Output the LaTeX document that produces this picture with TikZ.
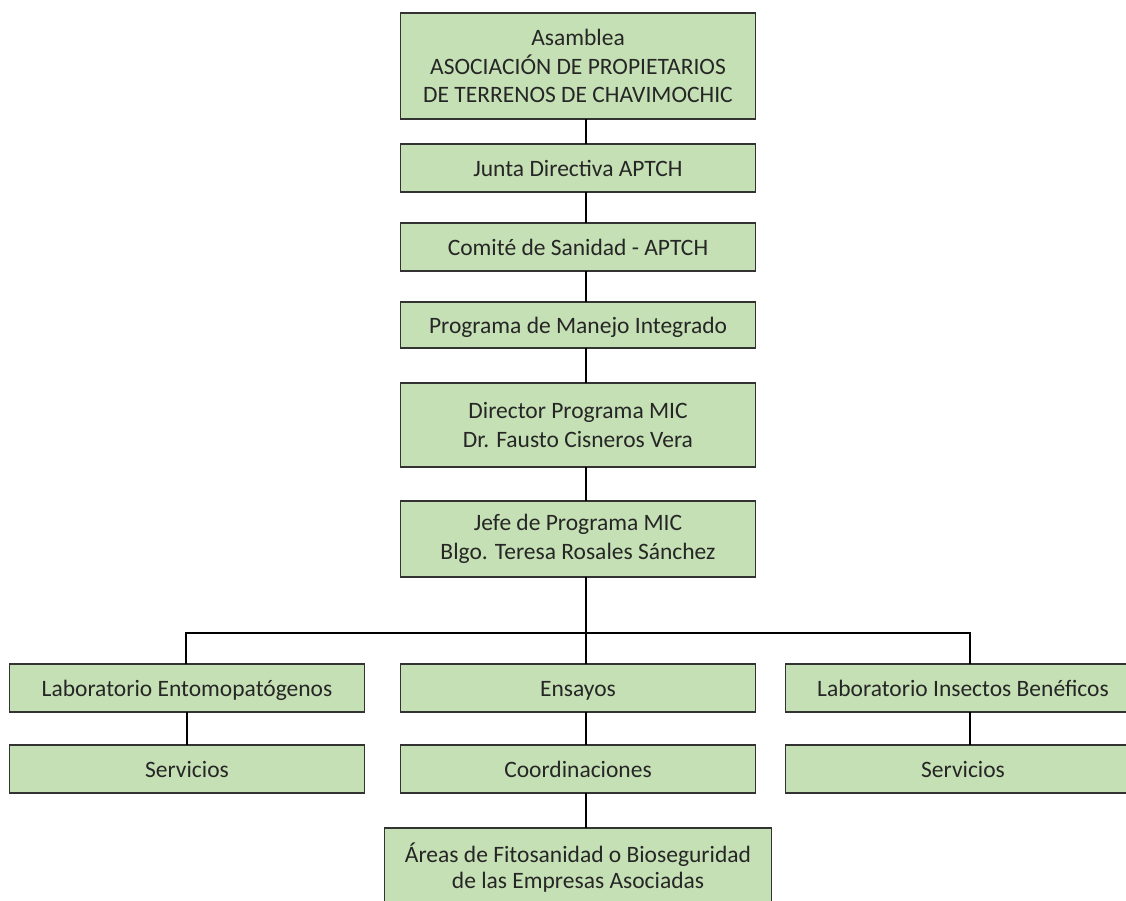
\documentclass[tikz,border=0pt]{standalone}
\usepackage{fontspec}
\setmainfont{Carlito}
\usepackage{tikz}
\usetikzlibrary{positioning}
\definecolor{boxgreen}{HTML}{C5E0B4}
\tikzset{
  unit/.style={rectangle, draw=black!80, line width=1.6pt, fill=boxgreen, align=center,
               minimum width=355pt, minimum height=48pt, inner sep=2pt, outer sep=0pt,
               text=black!85, font=\fontsize{23.5}{28.5}\selectfont},
  solo/.style={unit, text height=17pt, text depth=0pt},
  link/.style={line width=2.4pt, black},
}

\begin{document}
\begin{tikzpicture}[x=1pt, y=1pt]
  \useasboundingbox (0,0) rectangle (1126,-901);
  % cadena principal
  \node[unit, minimum height=106pt] (asam) at (578,-66) {Asamblea\\ASOCIACIÓN DE PROPIETARIOS\\DE TERRENOS DE CHAVIMOCHIC};
  \node[solo, below=25pt of asam] (junta) {Junta Directiva APTCH};
  \node[solo, below=31pt of junta] (comite) {Comité de Sanidad - APTCH};
  \node[solo, minimum height=46pt, below=31pt of comite] (prog) {Programa de Manejo Integrado};
  \node[unit, minimum height=84pt, below=35pt of prog] (dir) {Director Programa MIC\\Dr. Fausto Cisneros Vera};
  \node[unit, minimum height=76pt, below=34pt of dir] (jefe) {Jefe de Programa MIC\\Blgo. Teresa Rosales Sánchez};
  % areas del programa
  \node[solo, below=87pt of jefe] (ensa) {Ensayos};
  \node[solo, left=36pt of ensa] (ento) {Laboratorio Entomopatógenos};
  \node[solo, right=30pt of ensa] (insec) {Laboratorio Insectos Benéficos};
  \node[solo, below=33pt of ento] (serv1) {Servicios};
  \node[solo, below=33pt of ensa] (coord) {Coordinaciones};
  \node[solo, below=33pt of insec] (serv2) {Servicios};
  \node[unit, minimum width=387pt, minimum height=80pt, font=\fontsize{23.5}{26}\selectfont,
        below=35pt of coord] (areas) {Áreas de Fitosanidad o Bioseguridad\\de las Empresas Asociadas};
  % conectores
  \coordinate (bus) at (0,-633);
  \foreach \a/\b/\s in {asam/junta/8, junta/comite/8, comite/prog/8, prog/dir/8, dir/jefe/8,
                        jefe/ensa/8, ento/serv1/0, ensa/coord/8, insec/serv2/7, coord/areas/8}
    \draw[link] ([xshift=\s pt]\a.south) -- ([xshift=\s pt]\b.north);
  \draw[link] ([xshift=-1pt]ento.north) |- ([xshift=7pt]insec.north |- bus) -- ([xshift=7pt]insec.north);
\end{tikzpicture}
\end{document}
